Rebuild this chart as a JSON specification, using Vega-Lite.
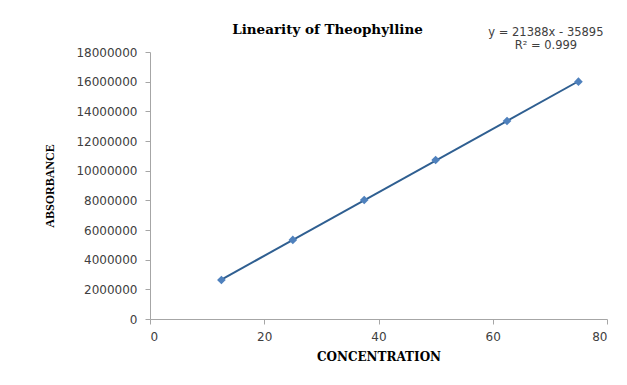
{
  "$schema": "https://vega.github.io/schema/vega-lite/v6.json",
  "width": 457,
  "height": 267,
  "autosize": {"type": "none"},
  "padding": {"left": 150, "top": 52, "right": 20, "bottom": 66},
  "background": "white",
  "config": {"view": {"stroke": null}},
  "title": {
    "text": "Linearity of Theophylline",
    "font": "DejaVu Serif",
    "fontSize": 13.5,
    "fontWeight": "bold",
    "color": "black",
    "anchor": "middle",
    "dx": -51,
    "baseline": "alphabetic",
    "offset": -21
  },
  "data": {
    "values": [
      {"conc": 12.5, "abs": 2630000},
      {"conc": 25, "abs": 5330000},
      {"conc": 37.5, "abs": 8020000},
      {"conc": 50, "abs": 10720000},
      {"conc": 62.5, "abs": 13350000},
      {"conc": 75, "abs": 16000000}
    ]
  },
  "encoding": {
    "x": {
      "field": "conc",
      "type": "quantitative",
      "scale": {"domain": [0, 80], "nice": false},
      "axis": {
        "values": [0, 20, 40, 60, 80],
        "grid": false,
        "domainColor": "#a6a6a6",
        "tickColor": "#a6a6a6",
        "tickSize": 5,
        "labelFont": "DejaVu Sans",
        "labelFontSize": 12,
        "labelColor": "#404040",
        "labelPadding": 7,
        "title": "CONCENTRATION",
        "titleFont": "DejaVu Serif",
        "titleFontSize": 12,
        "titleFontWeight": "bold",
        "titleColor": "black",
        "titlePadding": 9
      }
    },
    "y": {
      "field": "abs",
      "type": "quantitative",
      "scale": {"domain": [0, 18000000], "nice": false},
      "axis": {
        "values": [0, 2000000, 4000000, 6000000, 8000000, 10000000, 12000000, 14000000, 16000000, 18000000],
        "format": "d",
        "grid": false,
        "domainColor": "#a6a6a6",
        "tickColor": "#a6a6a6",
        "tickSize": 5,
        "labelFont": "DejaVu Sans",
        "labelFontSize": 12,
        "labelColor": "#404040",
        "labelPadding": 8,
        "title": "ABSORBANCE",
        "titleFont": "Liberation Serif",
        "titleFontSize": 12,
        "titleFontWeight": "bold",
        "titleColor": "black",
        "titlePadding": 19
      }
    }
  },
  "layer": [
    {
      "transform": [{"regression": "abs", "on": "conc"}],
      "mark": {"type": "line", "color": "#2f5f91", "strokeWidth": 2}
    },
    {
      "mark": {"type": "point", "shape": "diamond", "filled": true, "color": "#4f81bd", "size": 75, "opacity": 1}
    },
    {
      "data": {
        "values": [
          {"label": "y = 21388x - 35895", "lx": 69.3, "ly": 19300000},
          {"label": "R² = 0.999", "lx": 69.3, "ly": 18400000}
        ]
      },
      "mark": {"type": "text", "font": "DejaVu Sans", "fontSize": 11.5, "color": "#404040", "align": "center", "baseline": "middle"},
      "encoding": {
        "x": {"field": "lx", "type": "quantitative"},
        "y": {"field": "ly", "type": "quantitative"},
        "text": {"field": "label", "type": "nominal"}
      }
    }
  ]
}
